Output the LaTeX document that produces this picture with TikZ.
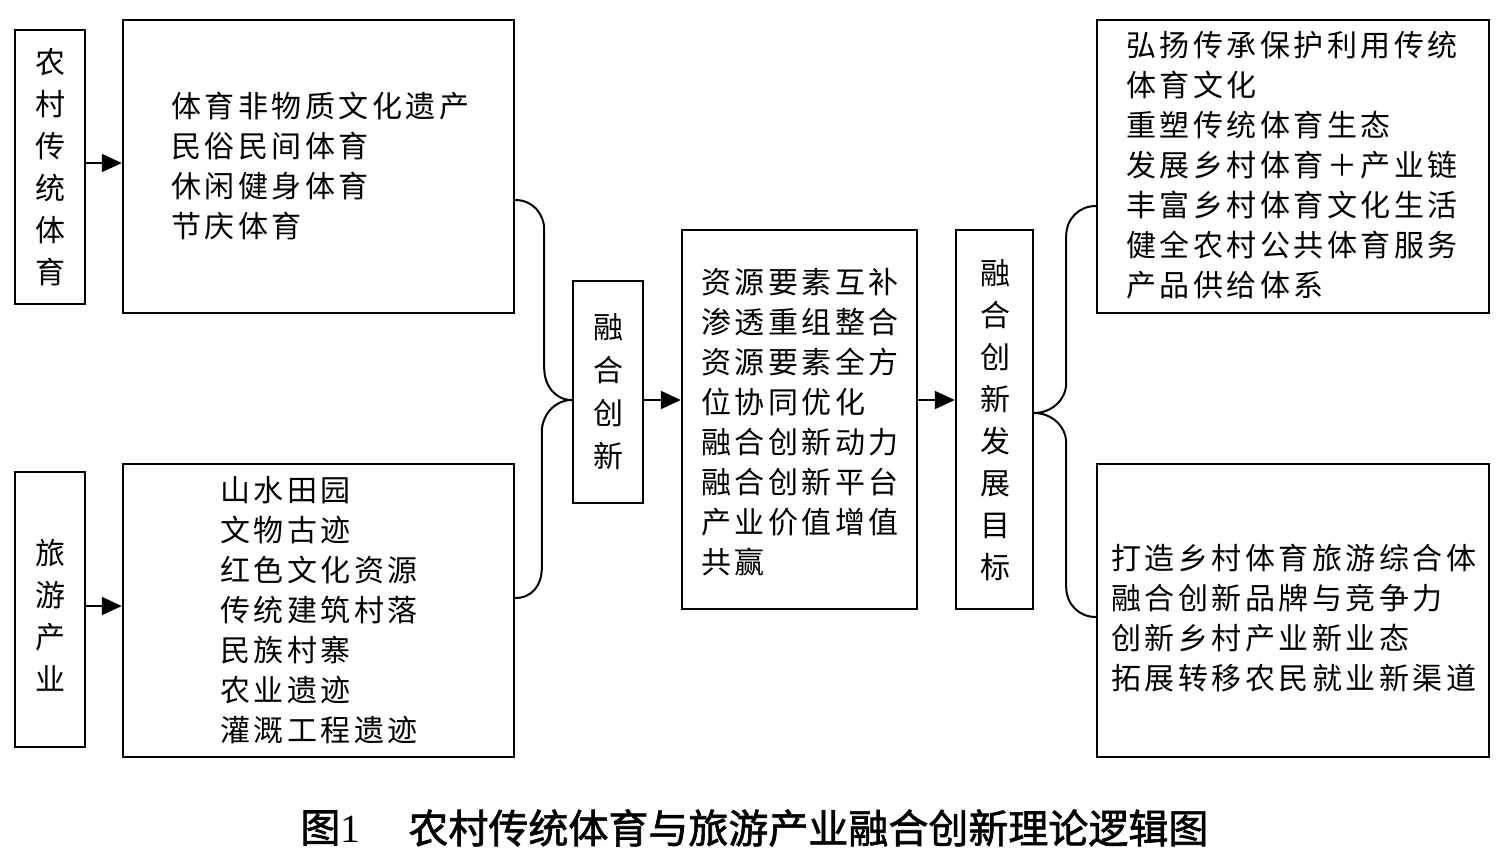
\documentclass[tikz,border=0pt]{standalone}
\usepackage{fontspec}
\usetikzlibrary{arrows.meta}
\newfontfamily\cjk[LetterSpace=11.7]{Noto Sans CJK SC}
\newfontfamily\cjkv{Noto Sans CJK SC}
\newfontfamily\capfont[FakeBold=1.6]{Noto Sans CJK SC}
\newfontfamily\numfont{Liberation Serif}
\begin{document}
\begin{tikzpicture}[x=0.5pt,y=-0.5pt,
  box/.style={draw,line width=1.2pt,inner sep=0pt},
  txt/.style={inner sep=0pt,align=left,anchor=west,font=\cjk\fontsize{15pt}{20pt}\selectfont},
  vtxt/.style={inner sep=0pt,align=center,font=\cjkv\fontsize{15pt}{21pt}\selectfont},
  arr/.style={line width=1pt,-{Triangle[length=10pt,width=9pt]}},
  brace/.style={line width=1pt}]
\useasboundingbox (0,0) rectangle (1500,859);
% boxes
\node[box,minimum width=35pt,minimum height=137pt] (b1) at (50,167) {};
\node[box,minimum width=195.5pt,minimum height=146.5pt] (b2) at (318.5,166.5) {};
\node[box,minimum width=35pt,minimum height=137.5pt] (b3) at (50,609.5) {};
\node[box,minimum width=195.5pt,minimum height=146.5pt] (b4) at (318.5,610.5) {};
\node[box,minimum width=35pt,minimum height=111pt] (m1) at (608,392) {};
\node[box,minimum width=117.5pt,minimum height=189.5pt] (c) at (799.5,419.5) {};
\node[box,minimum width=38.5pt,minimum height=189.5pt] (g) at (994.5,419.5) {};
\node[box,minimum width=196pt,minimum height=146.5pt] (r1) at (1293,166.5) {};
\node[box,minimum width=196pt,minimum height=146.5pt] (r2) at (1293,610.5) {};
% texts
\node[vtxt] (t1) at (50,167) {农\\村\\传\\统\\体\\育};
\node[vtxt] (t3) at (50,615.5) {旅\\游\\产\\业};
\node[vtxt,font=\cjkv\fontsize{15pt}{21.5pt}\selectfont] (tm) at (608,391.5) {融\\合\\创\\新};
\node[vtxt] (tg) at (995,420.5) {融\\合\\创\\新\\发\\展\\目\\标};
\node[txt] (t2) at (171,165.5) {体育非物质文化遗产\\民俗民间体育\\休闲健身体育\\节庆体育};
\node[txt] (t4) at (220,610) {山水田园\\文物古迹\\红色文化资源\\传统建筑村落\\民族村寨\\农业遗迹\\灌溉工程遗迹};
\node[txt] (tc) at (701,422) {资源要素互补\\渗透重组整合\\资源要素全方\\位协同优化\\融合创新动力\\融合创新平台\\产业价值增值\\共赢};
\node[txt] (tr1) at (1126,165) {弘扬传承保护利用传统\\体育文化\\重塑传统体育生态\\发展乡村体育＋产业链\\丰富乡村体育文化生活\\健全农村公共体育服务\\产品供给体系};
\node[txt] (tr2) at (1111,618) {打造乡村体育旅游综合体\\融合创新品牌与竞争力\\创新乡村产业新业态\\拓展转移农民就业新渠道};
% arrows
\draw[arr] ([yshift=2pt]b1.east) -- ([yshift=2pt]b1.east -| b2.west);
\draw[arr] ([yshift=1.75pt]b3.east) -- ([yshift=1.75pt]b3.east -| b4.west);
\draw[arr] ([yshift=-4pt]m1.east) -- ([yshift=-4pt]m1.east -| c.west);
\draw[arr] ([yshift=9.75pt]c.east) -- ([yshift=9.75pt]c.east -| g.west);
% braces
\draw[brace] ([yshift=-16.75pt]b2.east) .. controls +(17,0) and +(0,-17) .. ++(29,30) -- ++(0,138) .. controls +(0,17) and +(-17,0) .. ([yshift=-4pt]m1.west);
\draw[brace] ([yshift=-4pt]m1.west) .. controls +(-17,0) and +(0,-17) .. ++(-30,32) -- ++(0,136) .. controls +(0,17) and +(17,0) .. ([yshift=6.25pt]b4.east);
\draw[brace] ([yshift=3.25pt]g.east) .. controls +(17,0) and +(0,17) .. ++(32,-30) -- ++(0,-147) .. controls +(0,-17) and +(-17,0) .. ([yshift=-19.75pt]r1.west);
\draw[brace] ([yshift=3.25pt]g.east) .. controls +(17,0) and +(0,-17) .. ++(32,30) -- ++(0,144) .. controls +(0,17) and +(-17,0) .. ([yshift=-3.25pt]r2.west);
% caption
\node[anchor=west,inner sep=0pt,font=\capfont\fontsize{20pt}{24pt}\selectfont] (capnum) at (300,828) {图{\numfont 1}};
\node[anchor=west,inner sep=0pt,font=\capfont\fontsize{20pt}{24pt}\selectfont] (cap) at (408,828) {农村传统体育与旅游产业融合创新理论逻辑图};
\end{tikzpicture}
\end{document}
